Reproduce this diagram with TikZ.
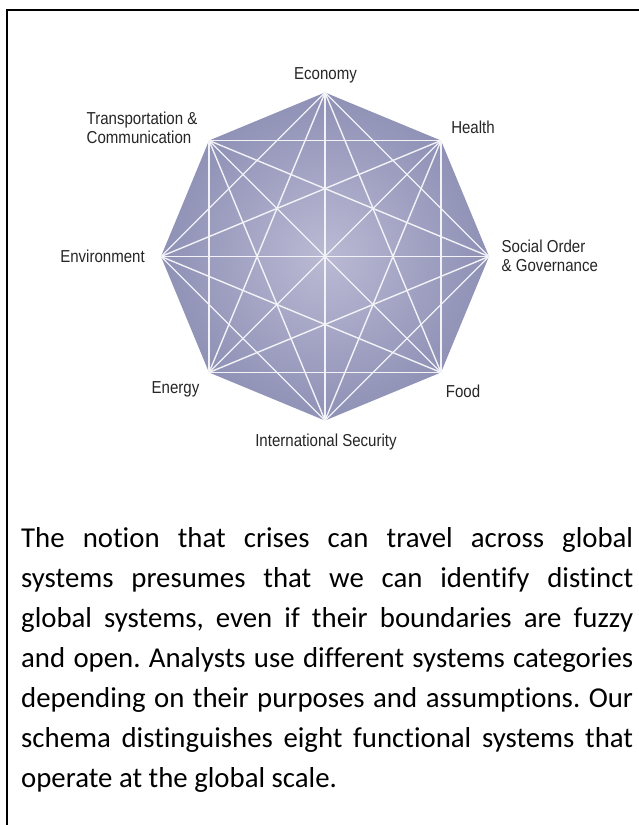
\documentclass[tikz,border=0pt]{standalone}
\usepackage{fontspec}
\setmainfont{Carlito}[Ligatures=NoCommon]
\newfontfamily\labelfont{Liberation Sans}[FakeStretch=0.87]
\usetikzlibrary{math}
\definecolor{octout}{HTML}{8E90B5}
\definecolor{octin}{HTML}{BABAD4}
\definecolor{chordcol}{HTML}{F2F2F7}
\tikzstyle{lbl} = [inner sep=0mm, text=black!85, font=\labelfont\fontsize{17.3}{19.5}\selectfont]
\tikzstyle{chord} = [chordcol, line width=1.4pt]
\tikzstyle{body} = [inner sep=0mm, anchor=north west, text width=612pt, align=justify, font=\frenchspacing\fontsize{28.8}{40}\selectfont]

\begin{document}
\begin{tikzpicture}[x=1pt, y=-1pt]
                \clip (0,0) rectangle (639,825);
                \fill[white] (0,0) rectangle (639,825);
                \draw[line width=2.4pt] (7,10) rectangle (660,850);

                \foreach \i in {0,...,7} {
                    \coordinate (v\i) at ({325+164*sin(45*\i)}, {256.5-164*cos(45*\i)});
                }
                \shade[inner color=octin, outer color=octout] (v0) -- (v1) -- (v2) -- (v3) -- (v4) -- (v5) -- (v6) -- (v7) -- cycle;

                \foreach \i in {0,...,7} {
                    \foreach \d in {2,3} {
                        \tikzmath{\j=int(mod(\i+\d,8));}
                        \draw[chord] (v\i) -- (v\j);
                    }
                }
                \foreach \i in {0,...,3} {
                    \tikzmath{\j=int(\i+4);}
                    \draw[chord] (v\i) -- (v\j);
                }

                \node[lbl, anchor=base] (economy) at (325.5,79.5) {Economy};
                \node[lbl, anchor=base] (health) at (473,133) {Health};
                \node[lbl, anchor=west, align=left] (social) at (501.5,256) {Social Order\\\& Governance};
                \node[lbl, anchor=base] (food) at (463,397) {Food};
                \node[lbl, anchor=base] (security) at (326,446) {International Security};
                \node[lbl, anchor=base] (energy) at (175.5,393) {Energy};
                \node[lbl, anchor=base] (environment) at (102.5,262) {Environment};
                \node[lbl, anchor=west, align=left] (transport) at (86.5,128) {Transportation \&\\Communication};

                \node[body] (text) at (21,527) {The notion that crises can travel across global\linebreak
                    systems presumes that we can identify distinct\linebreak
                    global systems, even if their boundaries are fuzzy\linebreak
                    and open. Analysts use different systems categories\linebreak
                    depending on their purposes and assumptions. Our\linebreak
                    schema distinguishes eight functional systems that\linebreak
                    operate at the global scale.};
            \end{tikzpicture}
\end{document}
